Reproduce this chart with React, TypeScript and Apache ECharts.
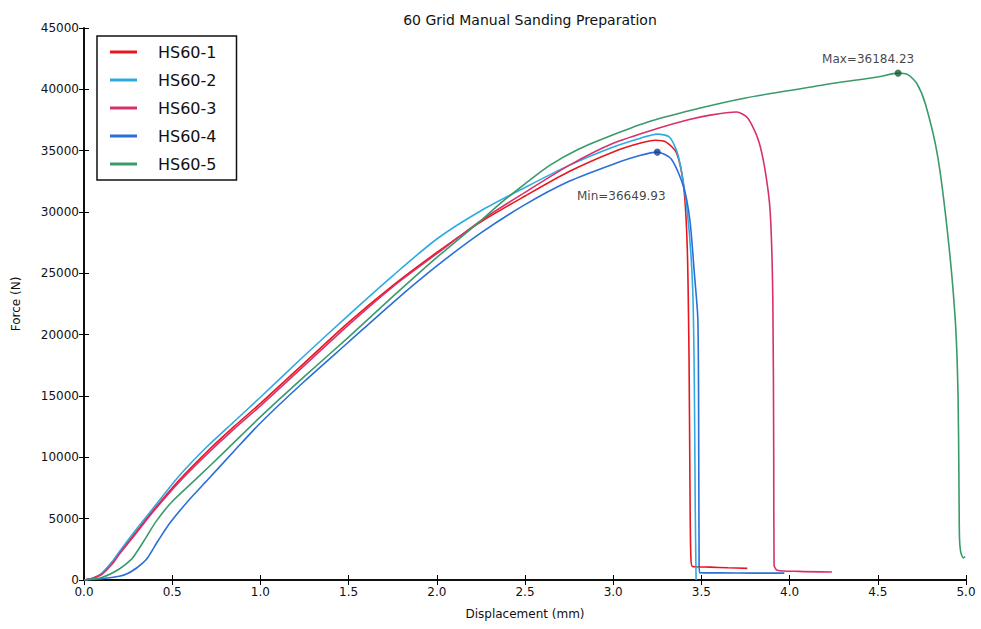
import React, { useEffect, useRef } from "react";
import * as echarts from "echarts";

const seriesNames = ["HS60-1", "HS60-2", "HS60-3", "HS60-4", "HS60-5"];
const seriesColors = ["#e8161e", "#2eaae2", "#d8306a", "#2a6fd8", "#3a9a6a"];

const hs601: number[][] = [
  [0, 0], [0.05, 150], [0.1, 500], [0.16, 1400], [0.2, 2200], [0.3, 4000], [0.4, 5800], [0.54, 8150], [0.7, 10500],
  [0.85, 12500], [1.0, 14400], [1.25, 17700], [1.5, 21000], [1.75, 24000], [2.0, 26700], [2.25, 29200],
  [2.5, 31300], [2.75, 33300], [3.0, 34900], [3.15, 35600], [3.24, 35850], [3.3, 35700], [3.36, 34800],
  [3.4, 32000], [3.42, 27000], [3.43, 18000], [3.435, 8000], [3.44, 2000], [3.45, 1100], [3.55, 1050],
  [3.65, 1000], [3.76, 950],
];

const hs602: number[][] = [
  [0, 0], [0.05, 150], [0.1, 550], [0.16, 1500], [0.2, 2300], [0.3, 4200], [0.4, 6000], [0.54, 8500], [0.7, 10900],
  [0.85, 12900], [1.0, 14900], [1.25, 18300], [1.5, 21600], [1.75, 24800], [2.0, 27800], [2.25, 30100],
  [2.5, 32000], [2.75, 33800], [3.0, 35300], [3.15, 36000], [3.25, 36350], [3.32, 36100], [3.37, 34500],
  [3.42, 30000], [3.45, 24000], [3.46, 16000], [3.465, 6000], [3.47, 0],
];

const hs603: number[][] = [
  [0, 0], [0.05, 150], [0.1, 450], [0.16, 1300], [0.2, 2100], [0.3, 3900], [0.4, 5700], [0.54, 8000], [0.7, 10300],
  [0.85, 12300], [1.0, 14200], [1.25, 17500], [1.5, 20800], [1.75, 23900], [2.0, 26600], [2.25, 29300],
  [2.5, 31600], [2.75, 33800], [3.0, 35600], [3.25, 36800], [3.42, 37500], [3.55, 37900], [3.7, 38150],
  [3.76, 37700], [3.82, 36000], [3.86, 33500], [3.89, 30000], [3.905, 22800], [3.91, 10000], [3.912, 1200], [3.93, 800],
  [4.05, 700], [4.24, 650],
];

const hs604: number[][] = [
  [0, 0], [0.1, 100], [0.2, 300], [0.25, 550], [0.3, 1000], [0.33, 1350], [0.36, 1800], [0.42, 3200], [0.49, 4700],
  [0.6, 6600], [0.7, 8150], [0.85, 10500], [1.0, 12800], [1.25, 16200], [1.5, 19400], [1.75, 22600],
  [2.0, 25600], [2.25, 28300], [2.5, 30600], [2.75, 32500], [3.0, 33900], [3.15, 34600], [3.25, 34880],
  [3.33, 34300], [3.4, 32000], [3.435, 29300], [3.46, 25000], [3.48, 21200], [3.485, 10000], [3.487, 1500],
  [3.49, 600], [3.6, 580], [3.8, 560], [3.97, 560],
];

const hs605: number[][] = [
  [0, 0], [0.1, 200], [0.2, 900], [0.27, 1700], [0.3, 2300], [0.34, 3200], [0.41, 4800], [0.5, 6400], [0.64, 8300],
  [0.8, 10500], [1.0, 13300], [1.25, 16600], [1.5, 19800], [1.75, 23100], [2.0, 26300], [2.25, 29300],
  [2.36, 30700], [2.5, 32300], [2.64, 33800], [2.8, 35100], [3.0, 36300], [3.21, 37400], [3.5, 38500],
  [3.75, 39300], [4.0, 39900], [4.25, 40500], [4.5, 41000], [4.615, 41320], [4.67, 41200], [4.72, 40500],
  [4.77, 38800], [4.84, 34500], [4.9, 27700], [4.94, 21000], [4.955, 15000], [4.96, 8000], [4.963, 3500],
  [4.97, 2300], [4.985, 1800], [4.995, 1900],
];

const maxPoint: number[] = [4.615, 41320];
const maxLabel = "Max=36184.23";
const minPoint: number[] = [3.25, 34880];
const minLabel = "Min=36649.93";

const chartTitle = "60 Grid Manual Sanding Preparation";
const xName = "Displacement (mm)";
const yName = "Force (N)";

export default function App() {
  const ref = useRef<HTMLDivElement>(null);
  useEffect(() => {
    if (!ref.current) return;
    const chart = echarts.init(ref.current, null, { renderer: "svg" });
    const font = "DejaVu Sans";
    const allData = [hs601, hs602, hs603, hs604, hs605];
    const axisLine = { show: true, lineStyle: { color: "#000", width: 1.5 } };
    const tick = { show: true, inside: true, length: 5, lineStyle: { color: "#000", width: 1 } };
    chart.setOption({
      animation: false,
      backgroundColor: "#fff",
      textStyle: { fontFamily: font },
      title: {
        text: chartTitle,
        left: 525,
        textAlign: "center",
        top: 8,
        textStyle: { fontFamily: font, fontSize: 14, fontWeight: "normal", color: "#111" },
      },
      grid: { left: 84, right: 15, top: 28, bottom: 49 },
      legend: {
        data: seriesNames,
        orient: "vertical",
        left: 97,
        top: 36,
        backgroundColor: "#fff",
        borderColor: "#111",
        borderWidth: 1.5,
        borderRadius: 0,
        padding: [7, 20, 7, 13],
        itemWidth: 27,
        itemHeight: 3,
        itemGap: 10,
        icon: "rect",
        textStyle: { fontFamily: font, fontSize: 16, color: "#111", padding: [0, 0, 0, 16], lineHeight: 18 },
      },
      xAxis: [
        {
          type: "value",
          min: 0,
          max: 5,
          interval: 0.5,
          name: xName,
          nameLocation: "middle",
          nameGap: 28,
          nameTextStyle: { fontFamily: font, fontSize: 12, color: "#111" },
          axisLine,
          axisTick: tick,
          axisLabel: {
            fontFamily: font,
            fontSize: 12,
            color: "#111",
            margin: 6,
            formatter: (v: number) => v.toFixed(1),
          },
          splitLine: { show: false },
        },
        {
          type: "value",
          position: "top",
          min: 0,
          max: 5,
          interval: 0.5,
          axisLine,
          axisTick: tick,
          axisLabel: { show: false },
          splitLine: { show: false },
        },
      ],
      yAxis: [
        {
          type: "value",
          min: 0,
          max: 45000,
          interval: 5000,
          name: yName,
          nameLocation: "middle",
          nameGap: 62,
          nameTextStyle: { fontFamily: font, fontSize: 12, color: "#111" },
          axisLine,
          axisTick: tick,
          axisLabel: { fontFamily: font, fontSize: 12, color: "#111", margin: 5, formatter: (v: number) => String(v) },
          splitLine: { show: false },
        },
        {
          type: "value",
          position: "right",
          min: 0,
          max: 45000,
          interval: 5000,
          axisLine,
          axisTick: tick,
          axisLabel: { show: false },
          splitLine: { show: false },
        },
      ],
      series: [
        ...seriesNames.map((name, i) => ({
          name,
          type: "line",
          data: allData[i],
          showSymbol: false,
          symbol: "none",
          smooth: 0.25,
          color: seriesColors[i],
          lineStyle: { color: seriesColors[i], width: 1.6 },
          z: 2 + i,
        })),
        {
          name: "max",
          type: "scatter",
          data: [maxPoint],
          symbolSize: 7,
          itemStyle: { color: "#1c5a36" },
          z: 10,
          label: {
            show: true,
            position: "top",
            offset: [-30, 0],
            formatter: maxLabel,
            fontFamily: font,
            fontSize: 12,
            color: "#111",
          },
        },
        {
          name: "min",
          type: "scatter",
          data: [minPoint],
          symbolSize: 7,
          itemStyle: { color: "#1a3c8c" },
          z: 10,
          label: {
            show: true,
            position: "bottom",
            offset: [-36, 29],
            formatter: minLabel,
            fontFamily: font,
            fontSize: 12,
            color: "#111",
          },
        },
      ],
    });
    return () => chart.dispose();
  }, []);
  return <div ref={ref} style={{ width: 981, height: 629, position: "absolute", left: 0, top: 0 }} />;
}
